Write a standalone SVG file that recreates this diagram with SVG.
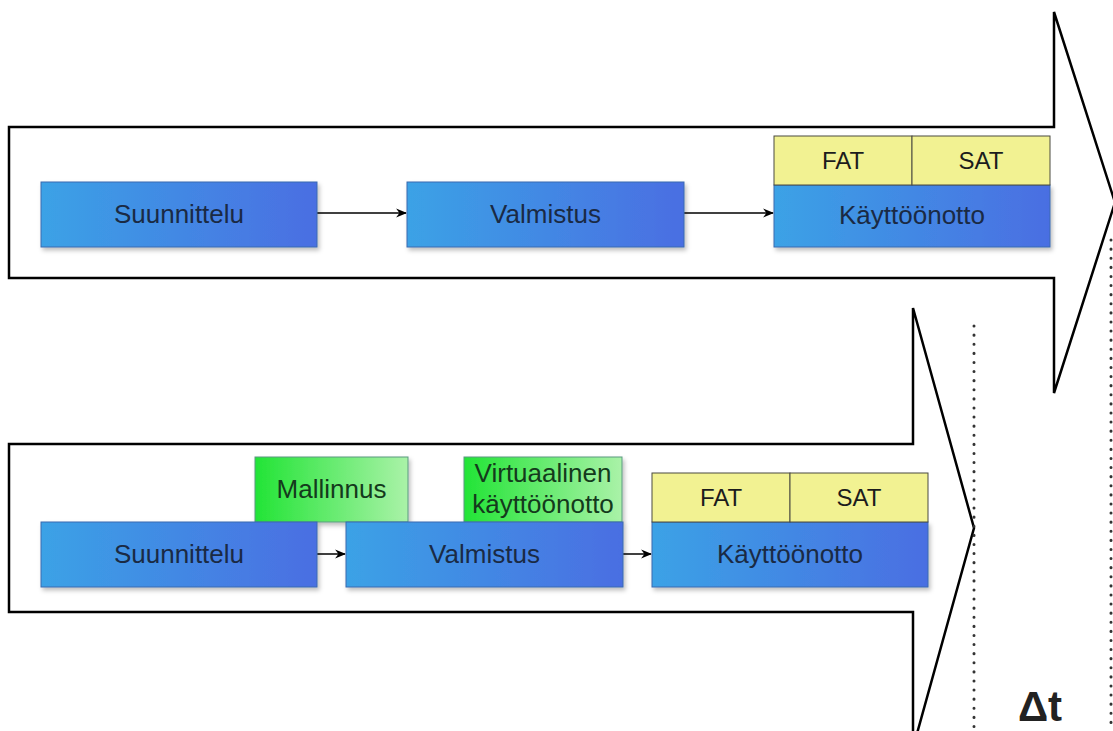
<svg xmlns="http://www.w3.org/2000/svg" width="1113" height="731" viewBox="0 0 1113 731">
<style>
.big{fill:#fff;stroke:#000;stroke-width:2.5}
.blue{fill:url(#gBlue);stroke:#3a6ab0;stroke-width:1;filter:url(#sh)}
.green{fill:url(#gGreen);stroke:#5a9a80;stroke-width:1;filter:url(#sh)}
.yellow{fill:#f2f292;stroke:#4a4a40;stroke-width:1}
.lbl{font-family:"Liberation Sans",Arial,sans-serif;font-size:26px;fill:#1a2a44;text-anchor:middle}
.lblg{font-family:"Liberation Sans",Arial,sans-serif;font-size:26px;fill:#143a1c;text-anchor:middle}
.lbly{font-family:"Liberation Sans",Arial,sans-serif;font-size:24px;fill:#1c1c1c;text-anchor:middle}
.conn{stroke:#000;stroke-width:1.5;fill:none;marker-end:url(#ah)}
.dot{stroke:#333;stroke-width:3;stroke-dasharray:0.1 9;stroke-linecap:round;fill:none}
</style>
<defs>
<linearGradient id="gBlue" x1="0" y1="0" x2="1" y2="0">
<stop offset="0" stop-color="#3ba2e6"/>
<stop offset="1" stop-color="#4a6ee2"/>
</linearGradient>
<linearGradient id="gGreen" x1="0" y1="0" x2="1" y2="0">
<stop offset="0" stop-color="#22e436"/>
<stop offset="1" stop-color="#aaf2a8"/>
</linearGradient>
<filter id="sh" x="-10%" y="-10%" width="130%" height="140%">
<feDropShadow dx="2" dy="3" stdDeviation="2" flood-color="#000" flood-opacity="0.25"/>
</filter>
<marker id="ah" viewBox="0 0 10 10" refX="9" refY="5" markerWidth="11" markerHeight="11" orient="auto" markerUnits="userSpaceOnUse">
<path d="M0,1 L10,5 L0,9 L3,5 Z" fill="#000"/>
</marker>
</defs>

<g id="timeline-top">
<path class="big" d="M9,127 L1054,127 L1054,12 L1115,202.5 L1054,393 L1054,278 L9,278 Z"/>
</g>
<g id="timeline-bottom">
<path class="big" d="M9,444 L913,444 L913,308 L974,528 L913,748 L913,612 L9,612 Z"/>
</g>

<g id="dotted-lines">
<line class="dot" x1="974" y1="326" x2="974" y2="731"/>
<line class="dot" x1="1111" y1="240" x2="1111" y2="731"/>
</g>

<g id="connectors">
<line class="conn" x1="317" y1="213" x2="406" y2="213"/>
<line class="conn" x1="684" y1="213" x2="773" y2="213"/>
<line class="conn" x1="317" y1="554" x2="345" y2="554"/>
<line class="conn" x1="623" y1="554" x2="651" y2="554"/>
</g>

<g id="top-suunnittelu">
<rect class="blue" x="41" y="182" width="276" height="65"/>
<text class="lbl" x="179" y="223">Suunnittelu</text>
</g>
<g id="top-valmistus">
<rect class="blue" x="407" y="182" width="277" height="65"/>
<text class="lbl" x="545.5" y="223">Valmistus</text>
</g>
<g id="top-kayttoonotto">
<rect class="blue" x="774" y="185" width="276" height="62"/>
<text class="lbl" x="912" y="224">Käyttöönotto</text>
</g>
<g id="top-fat">
<rect class="yellow" x="774" y="136" width="138" height="49"/>
<text class="lbly" x="843" y="169">FAT</text>
</g>
<g id="top-sat">
<rect class="yellow" x="912" y="136" width="138" height="49"/>
<text class="lbly" x="981" y="169">SAT</text>
</g>

<g id="bot-mallinnus">
<rect class="green" x="255" y="457" width="153" height="65"/>
<text class="lblg" x="331.5" y="498">Mallinnus</text>
</g>
<g id="bot-virtuaalinen">
<rect class="green" x="464" y="457" width="158" height="65"/>
<text class="lblg" x="543" y="482">Virtuaalinen</text>
<text class="lblg" x="543" y="513">käyttöönotto</text>
</g>
<g id="bot-suunnittelu">
<rect class="blue" x="41" y="522" width="276" height="65"/>
<text class="lbl" x="179" y="563">Suunnittelu</text>
</g>
<g id="bot-valmistus">
<rect class="blue" x="346" y="522" width="277" height="65"/>
<text class="lbl" x="484.5" y="563">Valmistus</text>
</g>
<g id="bot-kayttoonotto">
<rect class="blue" x="652" y="522" width="276" height="65"/>
<text class="lbl" x="790" y="563">Käyttöönotto</text>
</g>
<g id="bot-fat">
<rect class="yellow" x="652" y="473" width="138" height="49"/>
<text class="lbly" x="721" y="506">FAT</text>
</g>
<g id="bot-sat">
<rect class="yellow" x="790" y="473" width="138" height="49"/>
<text class="lbly" x="859" y="506">SAT</text>
</g>

<g id="delta-t">
<text x="1040" y="721" font-family="Liberation Sans,Arial,sans-serif" font-size="42" font-weight="bold" fill="#222" text-anchor="middle">Δt</text>
</g>
</svg>
